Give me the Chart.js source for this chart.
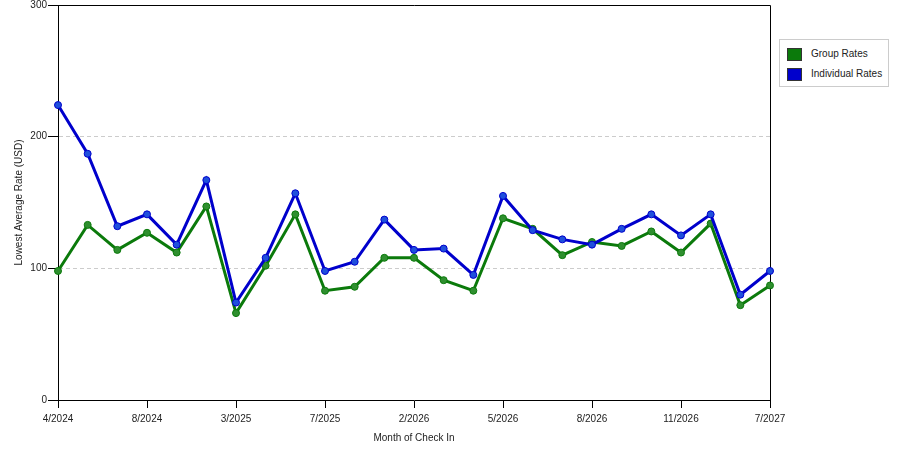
<!DOCTYPE html>
<html>
<head>
<meta charset="utf-8">
<script src="https://cdn.jsdelivr.net/npm/chart.js@4.4.1/dist/chart.umd.min.js"></script>
<style>
  html, body { margin: 0; padding: 0; background: #fff; }
  #wrap { position: relative; width: 900px; height: 450px; }
  #legend {
    position: absolute; left: 779px; top: 39px; width: 108px; height: 46px;
    border: 1px solid #ccc; background: #fff;
    font: 10px "Liberation Sans", Arial, sans-serif; color: #222;
  }
  #legend .item { position: absolute; left: 7px; height: 12px; line-height: 12px; }
  #legend .box { position: absolute; left: 0; top: 0; width: 13px; height: 11px; border: 1px solid #333; }
  #legend .txt { position: absolute; left: 24px; top: 0; white-space: nowrap; }
</style>
</head>
<body>
<div id="wrap">
  <canvas id="chart" width="900" height="450"></canvas>
  <div id="legend"></div>
</div>
<script>
// month of check in (only every third one is shown on the axis)
const months = ['4/2024', '5/2024', '6/2024', '8/2024', '9/2024', '12/2024', '3/2025', '4/2025', '5/2025',
  '7/2025', '9/2025', '12/2025', '2/2026', '3/2026', '4/2026', '5/2026', '6/2026', '7/2026', '8/2026',
  '9/2026', '10/2026', '11/2026', '12/2026', '4/2027', '7/2027'];

const groupRates = [98, 133, 114, 127, 112, 147, 66, 102, 141, 83, 86, 108, 108, 91, 83, 138, 130, 110,
  120, 117, 128, 112, 134, 72, 87];

const individualRates = [224, 187, 132, 141, 118, 167, 74, 108, 157, 98, 105, 137, 114, 115, 95, 155, 129, 122,
  118, 130, 141, 125, 141, 80, 98];

const yTicks = [0, 100, 200, 300];

const seriesNames = ['Group Rates', 'Individual Rates'];
const seriesColors = ['#0b7a0b', '#0000cc'];
const pointColors = ['#2f8f2f', '#1f4fdc'];

const font = { family: '"Liberation Sans", Arial, sans-serif', size: 10 };

// box around the plot (top and right edges)
const frame = {
    id: 'frame',
    beforeDatasetsDraw(chart) {
        let a = chart.chartArea;
        let ctx = chart.ctx;
        ctx.save();
        ctx.strokeStyle = '#000';
        ctx.lineWidth = 1;
        ctx.beginPath();
        ctx.moveTo(a.left, a.top + 0.5);
        ctx.lineTo(a.right + 0.5, a.top + 0.5);
        ctx.lineTo(a.right + 0.5, a.bottom);
        ctx.stroke();
        ctx.restore();
    }
};

function makeSet(i, data) {
    return {
        label: seriesNames[i],
        data: data,
        borderColor: seriesColors[i],
        borderWidth: 3,
        backgroundColor: pointColors[i],
        pointBackgroundColor: pointColors[i],
        pointBorderColor: seriesColors[i],
        pointBorderWidth: 1,
        pointRadius: 3.5,
        tension: 0,
        clip: false
    };
}

new Chart(document.getElementById('chart'), {
    type: 'line',
    data: {
        labels: months,
        datasets: [makeSet(1, individualRates), makeSet(0, groupRates)]
    },
    options: {
        responsive: false,
        animation: false,
        layout: { padding: { top: 4, right: 130, bottom: 0, left: 0 } },
        plugins: { legend: { display: false }, tooltip: { enabled: false } },
        scales: {
            x: {
                offset: false,
                grid: {
                    drawOnChartArea: false,
                    tickLength: 8,
                    tickColor: (c) => (c.index % 3 === 0 ? '#000' : 'transparent')
                },
                border: { color: '#000' },
                ticks: {
                    autoSkip: false,
                    maxRotation: 0,
                    padding: 5,
                    color: '#222',
                    font: font,
                    callback: function (v, i) { return i % 3 === 0 ? this.getLabelForValue(v) : ''; }
                },
                title: { display: true, text: 'Month of Check In', color: '#222', font: font, padding: { top: 0, bottom: 6 } },
                afterFit: (s) => { s.height = 50; }
            },
            y: {
                min: 0,
                max: 300,
                afterBuildTicks: (s) => { s.ticks = yTicks.map(v => ({ value: v })); },
                grid: {
                    color: (c) => (c.tick && (c.tick.value === 0 || c.tick.value === 300) ? 'transparent' : '#cccccc'),
                    tickColor: '#000',
                    tickLength: 10,
                    tickBorderDash: []
                },
                border: { color: '#000', dash: [4, 3] },
                ticks: { padding: 1, color: '#222', font: font },
                title: { display: true, text: 'Lowest Average Rate (USD)', color: '#222', font: font, padding: { top: 13, bottom: 0 } },
                afterFit: (s) => { s.width = 58; s.paddingTop = 0; s.paddingBottom = 0; }
            }
        }
    },
    plugins: [frame]
});

// legend
let legend = document.getElementById('legend');
seriesNames.forEach((name, i) => {
    let item = document.createElement('div');
    item.className = 'item';
    item.style.top = (8 + i * 20) + 'px';
    item.innerHTML = '<span class="box" style="background:' + seriesColors[i] + '"></span><span class="txt">' + name + '</span>';
    legend.appendChild(item);
});
</script>
</body>
</html>
